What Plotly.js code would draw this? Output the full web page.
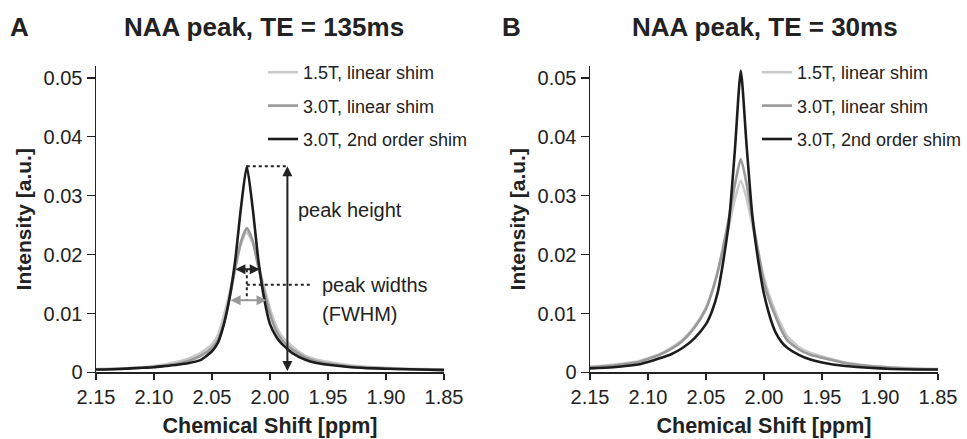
<!DOCTYPE html>
<html>
<head>
<meta charset="utf-8">
<script src="https://cdn.plot.ly/plotly-3.0.1.min.js"></script>
<style>html,body{margin:0;padding:0;background:#fff;}#chart{width:967px;height:439px;}</style>
</head>
<body>
<div id="chart"></div>
<script>
// Chemical shift sample points [ppm]
const shiftPpm = [2.15,2.13,2.11,2.10,2.09,2.08,2.07,2.06,2.05,2.045,2.04,2.035,2.03,2.025,2.02,2.015,2.01,2.005,2.00,1.995,1.99,1.985,1.98,1.97,1.96,1.95,1.93,1.91,1.89,1.87,1.85];

// Panel A: TE = 135 ms
const a15Linear = [0.0006,0.0007,0.0009,0.0011,0.0014,0.0018,0.0024,0.0033,0.0048,0.0063,0.0095,0.0135,0.0180,0.0218,0.0238,0.0220,0.0182,0.0145,0.0108,0.0080,0.0062,0.0052,0.0043,0.0029,0.0022,0.0018,0.0012,0.0009,0.0007,0.0006,0.0005];
const a30Linear = [0.0005,0.0006,0.0008,0.0010,0.0012,0.0015,0.0020,0.0028,0.0042,0.0055,0.0082,0.0125,0.0175,0.0222,0.0245,0.0224,0.0178,0.0138,0.0100,0.0072,0.0056,0.0046,0.0038,0.0026,0.0019,0.0015,0.0010,0.0008,0.0006,0.0005,0.0005];
const a30Second = [0.0005,0.0006,0.0008,0.0009,0.0011,0.0013,0.0016,0.0021,0.0036,0.0050,0.0080,0.0125,0.0190,0.0280,0.0350,0.0280,0.0190,0.0125,0.0082,0.0062,0.0049,0.0040,0.0032,0.0022,0.0016,0.0013,0.0009,0.0007,0.0006,0.0005,0.0004];

// Panel B: TE = 30 ms
const b15Linear = [0.0010,0.0013,0.0018,0.0024,0.0031,0.0042,0.0056,0.0078,0.0110,0.0137,0.0170,0.0210,0.0250,0.0295,0.0325,0.0295,0.0250,0.0205,0.0160,0.0128,0.0102,0.0080,0.0062,0.0043,0.0033,0.0027,0.0017,0.0012,0.0009,0.0007,0.0006];
const b30Linear = [0.0009,0.0012,0.0017,0.0023,0.0030,0.0040,0.0054,0.0076,0.0108,0.0135,0.0170,0.0215,0.0265,0.0320,0.0362,0.0320,0.0262,0.0205,0.0152,0.0120,0.0095,0.0072,0.0055,0.0039,0.0030,0.0025,0.0016,0.0011,0.0008,0.0006,0.0005];
const b30Second = [0.0007,0.0009,0.0013,0.0018,0.0024,0.0031,0.0042,0.0058,0.0082,0.0103,0.0135,0.0190,0.0260,0.0380,0.0512,0.0385,0.0265,0.0190,0.0133,0.0095,0.0068,0.0052,0.0042,0.0030,0.0022,0.0017,0.0011,0.0008,0.0006,0.0005,0.0005];

const seriesNames = ['1.5T, linear shim','3.0T, linear shim','3.0T, 2nd order shim'];
const seriesColors = ['#c9c9c9','#999999','#1c1c1c'];
const panelTitles = ['NAA peak, TE = 135ms','NAA peak, TE = 30ms'];
const panelLetters = ['A','B'];
const xTickVals = [2.15,2.10,2.05,2.00,1.95,1.90,1.85];
const yTickVals = [0,0.01,0.02,0.03,0.04,0.05];

const FONT = 'Liberation Sans, Arial, Helvetica, sans-serif';
const TXT = '#222222';

const panels = [[a15Linear,a30Linear,a30Second],[b15Linear,b30Linear,b30Second]];
const traces = [];
panels.forEach((set,p)=>{
  set.forEach((ys,i)=>{
    traces.push({
      type:'scatter', mode:'lines', x: shiftPpm, y: ys, name: seriesNames[i],
      xaxis: p===0?'x':'x2', yaxis: p===0?'y':'y2',
      legend: p===0?'legend':'legend2', legendgroup: 'p'+p+'s'+i,
      line:{color: seriesColors[i], width: 2.6, shape:'spline', smoothing:0.6},
      hoverinfo:'skip'
    });
  });
});

// Derived annotation geometry (panel A) from the data
function peakOf(ys){ let m=-1, k=0; ys.forEach((v,i)=>{ if(v>m){m=v;k=i;} }); return {idx:k, y:m, x:shiftPpm[k]}; }
function crossing(ys, level, side){
  const pk = peakOf(ys).idx;
  if(side<0){
    for(let i=pk;i>0;i--){ if(ys[i-1]<level && ys[i]>=level){ const f=(level-ys[i-1])/(ys[i]-ys[i-1]); return shiftPpm[i-1]+f*(shiftPpm[i]-shiftPpm[i-1]); } }
  } else {
    for(let i=pk;i<ys.length-1;i++){ if(ys[i+1]<level && ys[i]>=level){ const f=(ys[i]-level)/(ys[i]-ys[i+1]); return shiftPpm[i]+f*(shiftPpm[i+1]-shiftPpm[i]); } }
  }
  return null;
}
const pkBlack = peakOf(a30Second);
const pkGray = peakOf(a30Linear);
const halfBlack = pkBlack.y/2, halfGray = pkGray.y/2;
const bL = crossing(a30Second, halfBlack, -1), bR = crossing(a30Second, halfBlack, 1);
const gL = crossing(a30Linear, halfGray, -1), gR = crossing(a30Linear, halfGray, 1);
const bMid = (bL+bR)/2;
const midLevel = (halfBlack+halfGray)/2;
const heightArrowX = 1.985;
const widthLabelX = 1.964;

const shapes = [
  {type:'line', xref:'x', yref:'y', x0:pkBlack.x, x1:heightArrowX, y0:pkBlack.y, y1:pkBlack.y, line:{color:TXT,width:2,dash:'dot'}},
  {type:'line', xref:'x', yref:'y', x0:bMid, x1:bMid, y0:halfBlack, y1:halfGray, line:{color:TXT,width:2,dash:'dot'}},
  {type:'line', xref:'x', yref:'y', x0:bMid, x1:widthLabelX, y0:midLevel, y1:midLevel, line:{color:TXT,width:2,dash:'dot'}}
];

function dblArrow(x0,y0,x1,y1,color,w){
  return {xref:'x',yref:'y',axref:'x',ayref:'y',x:x1,y:y1,ax:x0,ay:y0,text:'',showarrow:true,
    arrowside:'end+start',arrowhead:2,arrowsize:1,arrowwidth:w,arrowcolor:color,standoff:0,startstandoff:0};
}

const annotations = [
  dblArrow(heightArrowX,0,heightArrowX,pkBlack.y,TXT,2),
  dblArrow(bL,halfBlack,bR,halfBlack,TXT,2),
  dblArrow(gL,halfGray,gR,halfGray,'#999999',2),
  {xref:'x',yref:'y',x:1.978,y:0.0276,xanchor:'left',yanchor:'middle',text:'peak height',showarrow:false,font:{family:FONT,size:20,color:TXT}},
  {xref:'x',yref:'y',x:1.957,y:midLevel,xanchor:'left',yanchor:'middle',text:'peak widths',showarrow:false,font:{family:FONT,size:20,color:TXT}},
  {xref:'x',yref:'y',x:1.957,y:midLevel-0.0049,xanchor:'left',yanchor:'middle',text:'(FWHM)',showarrow:false,font:{family:FONT,size:20,color:TXT}},
  {xref:'paper',yref:'paper',x:264/967,y:1-27/439,xanchor:'center',yanchor:'middle',text:'<b>'+panelTitles[0]+'</b>',showarrow:false,font:{family:FONT,size:26,color:TXT}},
  {xref:'paper',yref:'paper',x:765/967,y:1-27/439,xanchor:'center',yanchor:'middle',text:'<b>'+panelTitles[1]+'</b>',showarrow:false,font:{family:FONT,size:26,color:TXT}},
  {xref:'paper',yref:'paper',x:8/967,y:1-27/439,xanchor:'left',yanchor:'middle',text:'<b>'+panelLetters[0]+'</b>',showarrow:false,font:{family:FONT,size:26,color:TXT}},
  {xref:'paper',yref:'paper',x:500/967,y:1-27/439,xanchor:'left',yanchor:'middle',text:'<b>'+panelLetters[1]+'</b>',showarrow:false,font:{family:FONT,size:26,color:TXT}}
];

function xAxis(domain, anchor){
  return {domain:domain, anchor:anchor, range:[2.15,1.85], tickvals:xTickVals, tickformat:'.2f',
    showline:true, linecolor:TXT, linewidth:1.5, ticks:'outside', ticklen:6, tickwidth:1.5, tickcolor:TXT,
    showgrid:false, zeroline:false, tickfont:{family:FONT,size:20,color:TXT},
    title:{text:'<b>Chemical Shift [ppm]</b>', font:{family:FONT,size:21.5,color:TXT}, standoff:11}, automargin:false};
}
function yAxis(anchor){
  return {domain:[0.1515,0.8497], anchor:anchor, range:[0,0.052], tickvals:yTickVals,
    showline:true, linecolor:TXT, linewidth:1.5, ticks:'outside', ticklen:8, tickwidth:1.5, tickcolor:TXT,
    showgrid:false, zeroline:false, tickfont:{family:FONT,size:20,color:TXT},
    title:{text:'<b>Intensity [a.u.]</b>', font:{family:FONT,size:21,color:TXT}, standoff:6}, automargin:false};
}
function legendAt(xpx){
  return {x:xpx/967, y:1-54/439, xanchor:'left', yanchor:'top', bgcolor:'rgba(0,0,0,0)', borderwidth:0,
    font:{family:FONT,size:18,color:TXT}, traceorder:'grouped', tracegroupgap:7, itemclick:false, itemdoubleclick:false};
}

const layout = {
  width:967, height:439, margin:{l:0,r:0,t:0,b:0}, paper_bgcolor:'#ffffff', plot_bgcolor:'#ffffff',
  showlegend:true,
  xaxis: xAxis([96/967,444/967],'y'), yaxis: yAxis('x'),
  xaxis2: xAxis([590/967,938/967],'y2'), yaxis2: yAxis('x2'),
  legend: legendAt(263), legend2: legendAt(757),
  shapes: shapes, annotations: annotations,
  font:{family:FONT,color:TXT}
};

Plotly.newPlot('chart', traces, layout, {staticPlot:true, displayModeBar:false});
</script>
</body>
</html>
